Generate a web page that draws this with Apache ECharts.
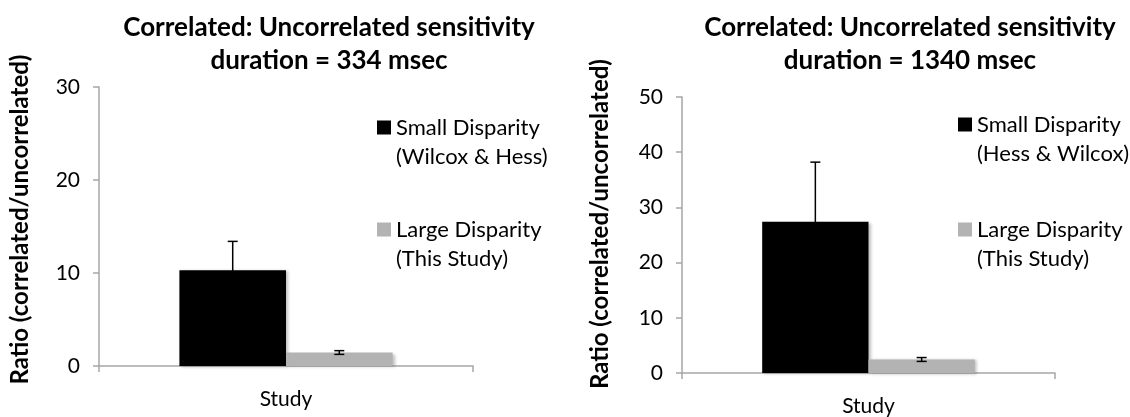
<!DOCTYPE html>
<html><head><meta charset="utf-8">
<script src="https://cdn.jsdelivr.net/npm/echarts@6/dist/echarts.min.js"></script>
<style>html,body{margin:0;padding:0;background:#fff}#c{width:1130px;height:417px}</style>
</head><body><div id="c"></div>
<script>
// ---- data ----
const categories = ['Study'];
const leftTitle = 'Correlated: Uncorrelated sensitivity\nduration = 334 msec';
const rightTitle = 'Correlated: Uncorrelated sensitivity\nduration = 1340 msec';
const yName = 'Ratio (correlated/uncorrelated)';
const leftSmallName = 'Small Disparity\n(Wilcox & Hess)';
const rightSmallName = 'Small Disparity\n(Hess & Wilcox)';
const largeName = 'Large Disparity\n(This Study)';
const leftSmall = [10.3];
const leftSmallErr = [3.1];
const leftLarge = [1.45];
const leftLargeErr = [0.2];
const rightSmall = [27.4];
const rightSmallErr = [10.8];
const rightLarge = [2.45];
const rightLargeErr = [0.35];
const leftTicks = {min: 0, max: 30, interval: 10};
const rightTicks = {min: 0, max: 50, interval: 10};

// ---- styles ----
const FONT = 'Lato';
const AXIS_COLOR = '#a6a6a6';
const BLACK = '#000000';
const GRAY = '#b3b3b3';
const CAT_GAP = '43%';
const GROUP_FRAC = 0.57;

function errSeries(vals, errs, sign, xi, yi) {
  return {
    type: 'custom', xAxisIndex: xi, yAxisIndex: yi, z: 5, silent: true,
    data: vals.map((v, i) => [i, v, errs[i]]),
    encode: {x: 0, y: 1},
    renderItem: function (params, api) {
      const xv = api.value(0), v = api.value(1), e = api.value(2);
      const hi = api.coord([xv, v + e]);
      const lo = api.coord([xv, v - e]);
      const band = api.size([1, 0])[0];
      const cx = hi[0] + sign * band * GROUP_FRAC / 4;
      const st = {stroke: '#000', lineWidth: 1.5};
      return {type: 'group', children: [
        {type: 'line', shape: {x1: cx, y1: hi[1], x2: cx, y2: lo[1]}, style: st},
        {type: 'line', shape: {x1: cx - 5, y1: hi[1], x2: cx + 5, y2: hi[1]}, style: st},
        {type: 'line', shape: {x1: cx - 5, y1: lo[1], x2: cx + 5, y2: lo[1]}, style: st}
      ]};
    }
  };
}
function barSeries(name, vals, color, xi, yi) {
  return {
    type: 'bar', name: name, xAxisIndex: xi, yAxisIndex: yi,
    data: vals, barGap: '0%', barCategoryGap: CAT_GAP,
    itemStyle: {color: color, shadowBlur: 3, shadowOffsetX: 2, shadowOffsetY: 1, shadowColor: 'rgba(0,0,0,0.25)'}
  };
}
function xAxis(gi) {
  return {
    type: 'category', gridIndex: gi, data: categories,
    axisLine: {lineStyle: {color: AXIS_COLOR, width: 1.5}},
    axisTick: {show: true, length: 6, lineStyle: {color: AXIS_COLOR, width: 1.5}},
    axisLabel: {color: '#000', fontFamily: FONT, fontSize: 21, margin: 23}
  };
}
function yAxis(gi, t, gap, pad) {
  return {
    type: 'value', gridIndex: gi, min: t.min, max: t.max, interval: t.interval,
    name: yName, nameLocation: 'middle', nameRotate: 90, nameGap: gap,
    nameTextStyle: {color: '#000', fontFamily: FONT, fontWeight: 'bold', fontSize: 24, padding: [0, 0, 0, pad]},
    axisLine: {show: true, lineStyle: {color: AXIS_COLOR, width: 1.5}},
    axisTick: {show: true, length: 6, lineStyle: {color: AXIS_COLOR, width: 1.5}},
    splitLine: {show: false},
    axisLabel: {color: '#000', fontFamily: FONT, fontSize: 21, margin: 19}
  };
}
function legend(names, left, top, gap) {
  return {
    data: names, orient: 'vertical', left: left, top: top, itemGap: gap,
    icon: 'rect', itemWidth: 14, itemHeight: 14, selectedMode: false,
    formatter: function (n) { return '\n' + n; },
    textStyle: {color: '#000', fontFamily: FONT, fontSize: 22, lineHeight: 29}
  };
}
function title(text, cx) {
  return {
    text: text, left: cx, top: 6, textAlign: 'center',
    textStyle: {color: '#000', fontFamily: FONT, fontWeight: 'bold', fontSize: 26, lineHeight: 33}
  };
}

const chart = echarts.init(document.getElementById('c'), null, {renderer: 'canvas'});
chart.setOption({
  backgroundColor: '#fff',
  animation: false,
  title: [title(leftTitle, 324), title(rightTitle, 905)],
  legend: [legend([leftSmallName, largeName], 372, 79, 15), legend([rightSmallName, largeName], 953, 76, 18)],
  grid: [
    {left: 99, top: 87, width: 374, height: 279},
    {left: 682, top: 97, width: 373, height: 277}
  ],
  xAxis: [xAxis(0), xAxis(1)],
  yAxis: [yAxis(0, leftTicks, 67, 14), yAxis(1, rightTicks, 70, 22)],
  series: [
    barSeries(leftSmallName, leftSmall, BLACK, 0, 0),
    barSeries(largeName, leftLarge, GRAY, 0, 0),
    barSeries(rightSmallName, rightSmall, BLACK, 1, 1),
    barSeries(largeName, rightLarge, GRAY, 1, 1),
    errSeries(leftSmall, leftSmallErr, -1, 0, 0),
    errSeries(leftLarge, leftLargeErr, 1, 0, 0),
    errSeries(rightSmall, rightSmallErr, -1, 1, 1),
    errSeries(rightLarge, rightLargeErr, 1, 1, 1)
  ]
});
</script></body></html>
